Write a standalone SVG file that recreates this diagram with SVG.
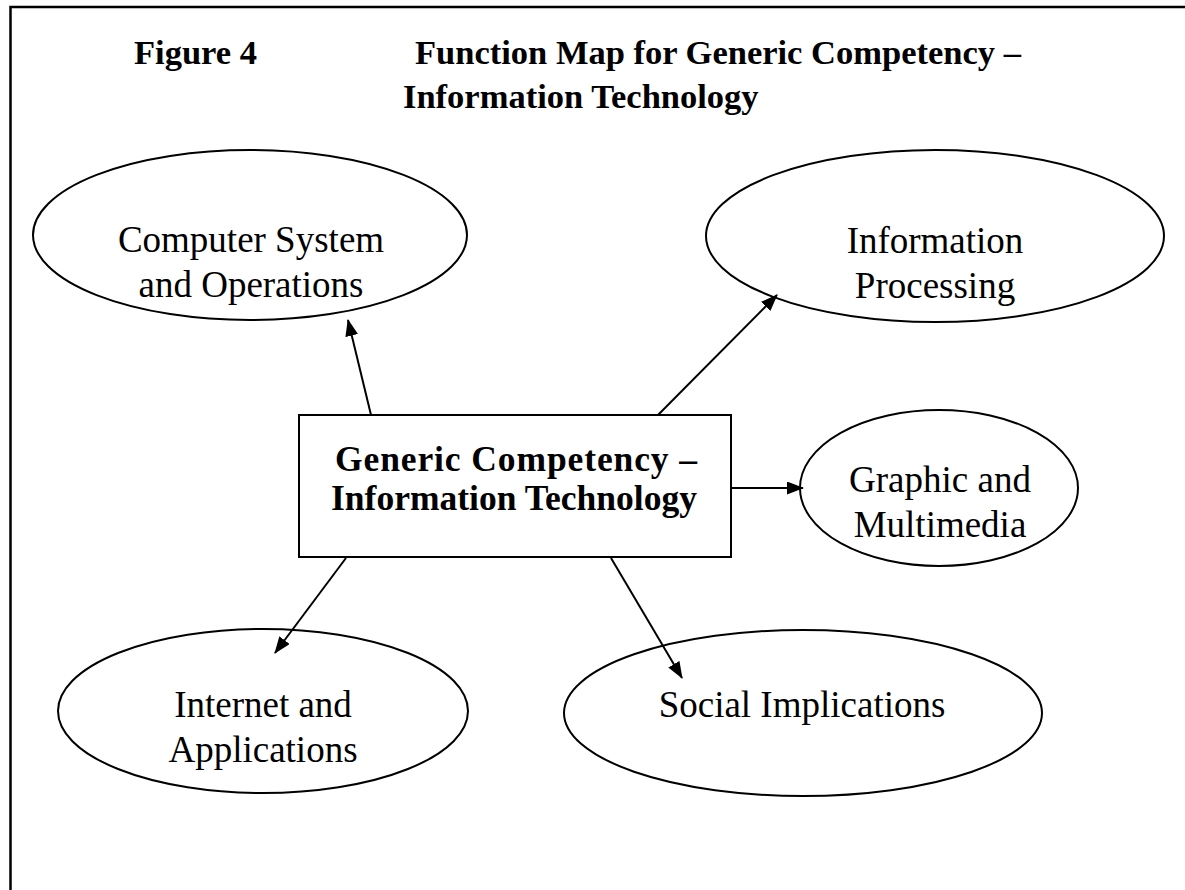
<svg xmlns="http://www.w3.org/2000/svg" width="1185" height="890" viewBox="0 0 1185 890">
<defs>
<style>
.t{font-family:"Liberation Serif","Times New Roman",serif;fill:#000}
.b{font-weight:bold}
.e{font-size:37px;text-anchor:middle}
.n{fill:#fff;stroke:#000;stroke-width:2}
.c{stroke:#000;stroke-width:2;fill:none;marker-end:url(#ah)}
</style>
<marker id="ah" viewBox="0 0 17 13" refX="16" refY="6.5" markerWidth="17" markerHeight="13" markerUnits="userSpaceOnUse" orient="auto">
<path d="M0,0 L17,6.5 L0,13 z" fill="#000"/>
</marker>
</defs>
<rect width="1185" height="890" fill="#fff"/>
<rect x="10.5" y="7" width="1190" height="900" fill="none" stroke="#000" stroke-width="2.5"/>
<g id="title" class="t b" font-size="34.5">
<text x="134" y="64">Figure 4</text>
<text x="415" y="64">Function Map for Generic Competency –</text>
<text x="403" y="108">Information Technology</text>
</g>
<g id="center">
<rect class="n" x="299" y="415" width="432" height="142"/>
<text class="t b" font-size="35.5" text-anchor="middle" x="516" y="471" textLength="362" lengthAdjust="spacing">Generic Competency –</text>
<text class="t b" font-size="35.5" text-anchor="middle" x="514" y="510">Information Technology</text>
</g>
<g id="computer-system">
<ellipse class="n" cx="250" cy="235" rx="217" ry="85"/>
<text class="t e" x="251" y="252">Computer System</text>
<text class="t e" x="251" y="297">and Operations</text>
</g>
<g id="information-processing">
<ellipse class="n" cx="935" cy="236" rx="229" ry="86"/>
<text class="t e" x="935" y="253">Information</text>
<text class="t e" x="935" y="298">Processing</text>
</g>
<g id="graphic-multimedia">
<ellipse class="n" cx="939" cy="488" rx="139" ry="78"/>
<text class="t e" x="940" y="492">Graphic and</text>
<text class="t e" x="940" y="537">Multimedia</text>
</g>
<g id="internet-applications">
<ellipse class="n" cx="263" cy="711" rx="205" ry="82"/>
<text class="t e" x="263" y="717">Internet and</text>
<text class="t e" x="263" y="762">Applications</text>
</g>
<g id="social-implications">
<ellipse class="n" cx="803" cy="713" rx="239" ry="83"/>
<text class="t e" x="802" y="717">Social Implications</text>
</g>
<g id="connectors">
<line class="c" x1="371" y1="415" x2="348" y2="320"/>
<line class="c" x1="658" y1="415" x2="777" y2="295"/>
<line class="c" x1="731" y1="488" x2="803" y2="488"/>
<line class="c" x1="346" y1="558" x2="275" y2="653"/>
<line class="c" x1="611" y1="558" x2="682" y2="678"/>
</g>
</svg>
